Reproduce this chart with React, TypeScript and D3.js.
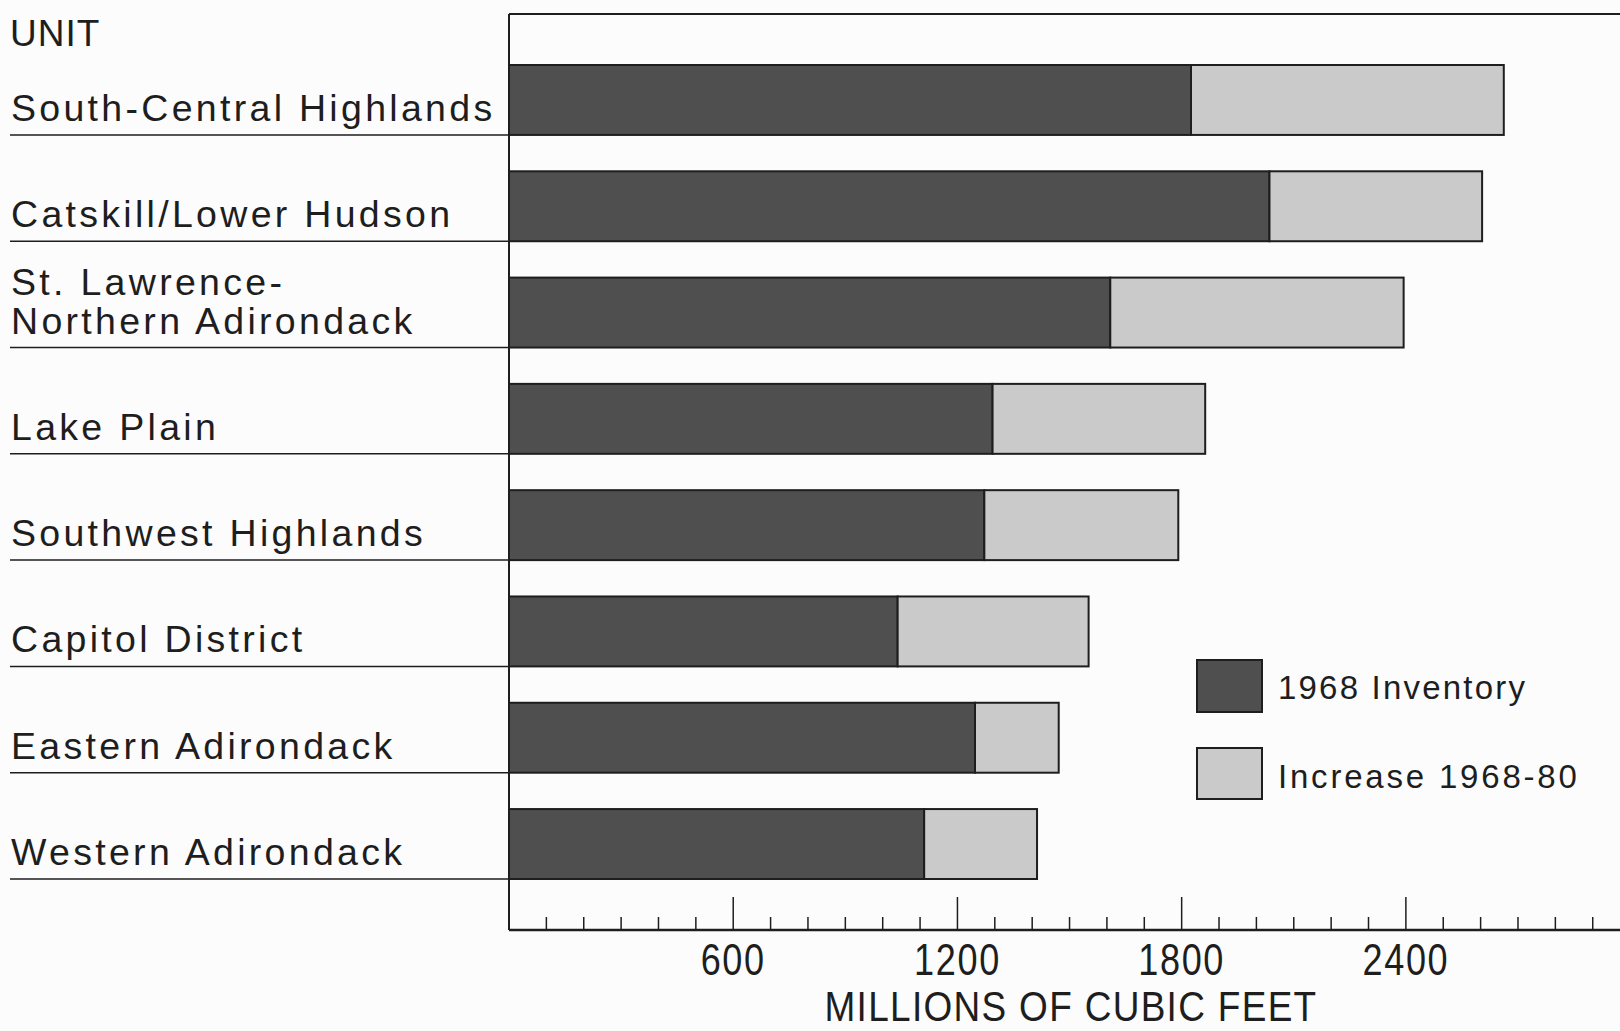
import React from 'react';
import * as d3 from 'd3';

const units = [
  'South-Central Highlands',
  'Catskill/Lower Hudson',
  'St. Lawrence-\nNorthern Adirondack',
  'Lake Plain',
  'Southwest Highlands',
  'Capitol District',
  'Eastern Adirondack',
  'Western Adirondack',
];
const inventory1968 = [1825, 2035, 1609, 1294, 1272, 1040, 1247, 1111];
const total1980 = [2662, 2604, 2394, 1863, 1791, 1551, 1471, 1413];
const majorTicks = [600, 1200, 1800, 2400];
const minorTicks = d3.range(100, 3000, 100);

const W = 1620;
const H = 1031;
const DARK = '#4f4f4f';
const LIGHT = '#cacaca';
const INK = '#1e1e1e';
const labelFont = "'Liberation Sans', Arial, Helvetica, sans-serif";

export default function App() {
  const x = d3.scaleLinear().domain([0, 3000]).range([509, 509 + 3000 * 0.3737]);
  const y = d3.scaleBand<string>().domain(units).range([65, 879]).paddingInner(0.342).paddingOuter(0);
  const bw = y.bandwidth();
  const frameTop = 14;
  const axisY = 930;

  return (
    <svg width={W} height={H} style={{ position: 'absolute', left: 0, top: 0, background: '#fcfcfc' }}>
      <rect width={W} height={H} fill="#fcfcfc" />

      {/* frame */}
      <line x1={x(0)} x2={W} y1={frameTop} y2={frameTop} stroke={INK} strokeWidth={2} />
      <line x1={x(0)} x2={x(0)} y1={frameTop} y2={axisY} stroke={INK} strokeWidth={2} />
      <line x1={x(0)} x2={W} y1={axisY} y2={axisY} stroke={INK} strokeWidth={2.5} />

      {minorTicks.map(t => (
        <line key={t} x1={x(t)} x2={x(t)} y1={axisY} y2={axisY - (t % 600 === 0 ? 33 : 13)}
          stroke={INK} strokeWidth={1.5} />
      ))}
      {majorTicks.map(t => (
        <text key={t} transform={`translate(${x(t)},975) scale(0.82,1)`} textAnchor="middle"
          fontFamily={labelFont} fontSize={44} letterSpacing={2} fill={INK}>{t}</text>
      ))}
      <text transform="translate(1071,1021) scale(0.88,1)" textAnchor="middle" fontFamily={labelFont}
        fontSize={42} letterSpacing={1.5} fill={INK}>MILLIONS OF CUBIC FEET</text>

      <text x={10} y={46} fontFamily={labelFont} fontSize={37} letterSpacing={1} fill={INK}>UNIT</text>

      {units.map((u, i) => {
        const top = y(u) as number;
        const bottom = top + bw;
        const lines = u.split('\n');
        return (
          <g key={u}>
            <line x1={10} x2={x(0)} y1={bottom} y2={bottom} stroke={INK} strokeWidth={1.5} />
            {lines.map((ln, j) => (
              <text key={j} x={11} y={bottom - 14 - (lines.length - 1 - j) * 39}
                fontFamily={labelFont} fontSize={37.5} letterSpacing={3.3} fill={INK}>{ln}</text>
            ))}
            <rect x={x(0)} y={top} width={x(inventory1968[i]) - x(0)} height={bw}
              fill={DARK} stroke={INK} strokeWidth={2} />
            <rect x={x(inventory1968[i])} y={top} width={x(total1980[i]) - x(inventory1968[i])} height={bw}
              fill={LIGHT} stroke={INK} strokeWidth={2} />
          </g>
        );
      })}

      {/* legend */}
      <rect x={1197} y={660} width={65} height={52} fill={DARK} stroke={INK} strokeWidth={2} />
      <text x={1278} y={699} fontFamily={labelFont} fontSize={33} letterSpacing={2.2} fill={INK}>1968 Inventory</text>
      <rect x={1197} y={748} width={65} height={51} fill={LIGHT} stroke={INK} strokeWidth={2} />
      <text x={1278} y={788} fontFamily={labelFont} fontSize={33} letterSpacing={2.8} fill={INK}>Increase 1968-80</text>
    </svg>
  );
}
